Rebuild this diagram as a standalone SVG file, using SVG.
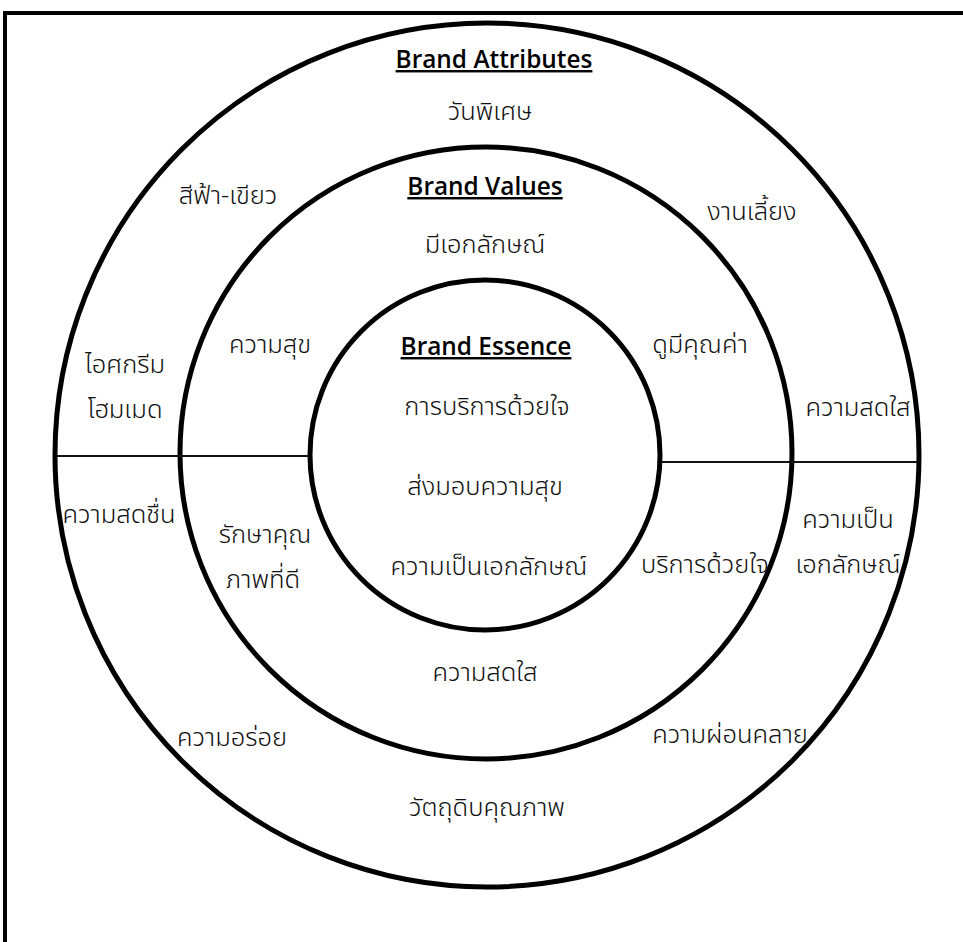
<svg xmlns="http://www.w3.org/2000/svg" width="963" height="942" viewBox="0 0 963 942">
<style>
.ring{fill:none;stroke:#000;stroke-width:5}
.div{stroke:#111;stroke-width:2}
.frame{fill:none;stroke:#000;stroke-width:4}
.h{font-family:"Open Sans","Liberation Sans",sans-serif;font-weight:600;font-size:24.4px;text-anchor:middle;text-decoration:underline;fill:#000}
.t{font-family:"Noto Sans Thai","Noto Sans","Liberation Sans",sans-serif;font-weight:300;font-size:25.5px;text-anchor:middle;fill:#111}
</style>
<rect width="963" height="942" fill="#fff"/>
<g id="frame"><polyline class="frame" points="5,942 5,13 963,13"/></g>
<g id="rings">
<circle id="outer" class="ring" cx="487" cy="455" r="432"/>
<circle id="middle" class="ring" cx="486" cy="453" r="306"/>
<circle id="inner" class="ring" cx="485" cy="455" r="175"/>
</g>
<g id="connectors">
<line class="div" x1="57" y1="456" x2="309" y2="456"/>
<line class="div" x1="661" y1="462" x2="917" y2="462"/>
</g>
<g id="attributes">
<text class="h" x="494" y="68">Brand Attributes</text>
<text class="t" x="490" y="120">วันพิเศษ</text>
<text class="t" x="228" y="204">สีฟ้า-เขียว</text>
<text class="t" x="752" y="220">งานเลี้ยง</text>
<text class="t" x="125" y="373">ไอศกรีม</text>
<text class="t" x="125" y="418">โฮมเมด</text>
<text class="t" x="858" y="416">ความสดใส</text>
<text class="t" x="119" y="523">ความสดชื่น</text>
<text class="t" x="848" y="528">ความเป็น</text>
<text class="t" x="848" y="573">เอกลักษณ์</text>
<text class="t" x="232" y="746">ความอร่อย</text>
<text class="t" x="730" y="743">ความผ่อนคลาย</text>
<text class="t" x="487" y="816">วัตถุดิบคุณภาพ</text>
</g>
<g id="values">
<text class="h" x="485" y="195">Brand Values</text>
<text class="t" x="485" y="253">มีเอกลักษณ์</text>
<text class="t" x="270" y="353">ความสุข</text>
<text class="t" x="700" y="353">ดูมีคุณค่า</text>
<text class="t" x="265" y="543">รักษาคุณ</text>
<text class="t" x="263" y="588">ภาพที่ดี</text>
<text class="t" x="705" y="573">บริการด้วยใจ</text>
<text class="t" x="485" y="681">ความสดใส</text>
</g>
<g id="essence">
<text class="h" x="486" y="355">Brand Essence</text>
<text class="t" x="487" y="415">การบริการด้วยใจ</text>
<text class="t" x="485" y="495">ส่งมอบความสุข</text>
<text class="t" x="489" y="575">ความเป็นเอกลักษณ์</text>
</g>
</svg>
